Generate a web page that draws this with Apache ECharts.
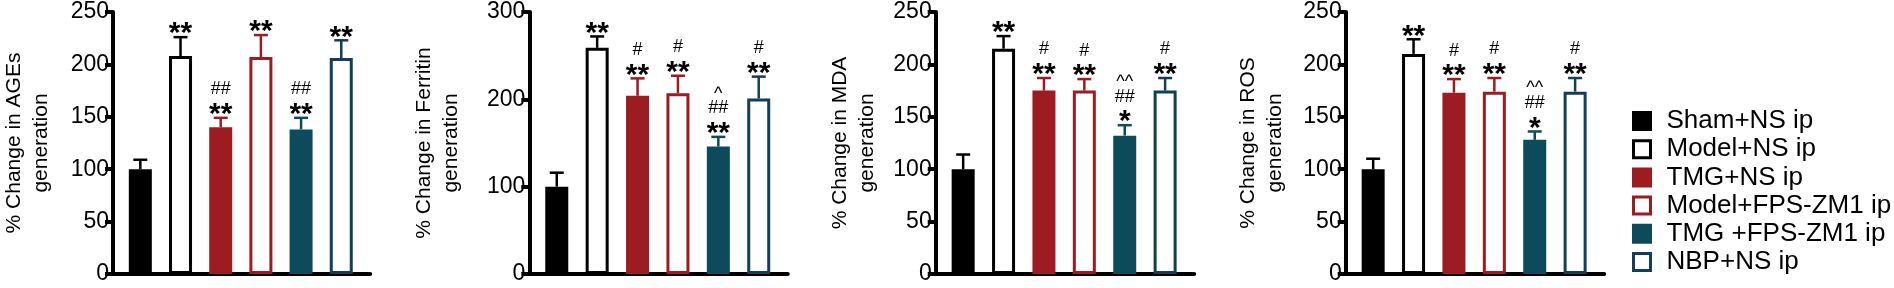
<!DOCTYPE html>
<html>
<head>
<meta charset="utf-8">
<script src="https://cdn.jsdelivr.net/npm/echarts@6/dist/echarts.min.js"></script>
<style>
html, body { margin: 0; padding: 0; background: #fff; }
#main { width: 1894px; height: 288px; }
</style>
</head>
<body>
<div id="main"></div>
<script>
// groups (legend order)
var groups = ['Sham+NS ip', 'Model+NS ip', 'TMG+NS ip', 'Model+FPS-ZM1 ip', 'TMG +FPS-ZM1 ip', 'NBP+NS ip'];

// AGEs
var agesMean = [100, 208, 140, 207, 138, 206];
var agesErr = [9, 18, 9, 21, 11, 17];
var agesMarks = ['', '**', '##\n**', '**', '##\n**', '**'];
// Ferritin
var ferritinMean = [100, 259, 204, 207, 146, 201];
var ferritinErr = [16, 13, 20, 20, 11, 25];
var ferritinMarks = ['', '**', '#\n**', '#\n**', '^\n##\n**', '#\n**'];
// MDA
var mdaMean = [100, 215, 175, 175, 132, 175];
var mdaErr = [14, 12, 12, 11, 10, 12];
var mdaMarks = ['', '**', '#\n**', '#\n**', '^^\n##\n*', '#\n**'];
// ROS
var rosMean = [100, 210, 173, 174, 128, 174];
var rosErr = [10, 14, 13, 13, 8, 13];
var rosMarks = ['', '**', '#\n**', '#\n**', '^^\n##\n*', '#\n**'];

var yTitles = ['% Change in AGEs\ngeneration', '% Change in Ferritin\ngeneration', '% Change in MDA\ngeneration', '% Change in ROS\ngeneration'];
var yMax = [250, 300, 250, 250];
var yStep = [50, 100, 50, 50];

var panels = [
	{mean: agesMean, err: agesErr, marks: agesMarks},
	{mean: ferritinMean, err: ferritinErr, marks: ferritinMarks},
	{mean: mdaMean, err: mdaErr, marks: mdaMarks},
	{mean: rosMean, err: rosErr, marks: rosMarks}
];

// layout / style
var RED = '#9c1c22', TEAL = '#0d4a5c', TEAL2 = '#123f55';
var fills = ['#000', '#fff', RED, '#fff', TEAL, '#fff'];
var edges = ['#000', '#000', RED, RED, TEAL, TEAL2];
var gridLeft = [111.7, 529.3, 935.7, 1345.7];
var nameGaps = [58, 65, 55, 57];
var FONT = '"Liberation Sans", Arial, Helvetica, sans-serif';

function markFont(line) {
	if (line.indexOf('*') >= 0) return {size: 30, weight: 'bold', dy: 8};
	if (line.indexOf('^') >= 0) return {size: 18, weight: 'normal', dy: 3};
	return {size: 18, weight: 'normal', dy: 0};
}

function buildEchart() {
	var myChart = echarts.init(document.getElementById('main'));
	var grids = [], xAxes = [], yAxes = [], series = [], legends = [];

	panels.forEach(function (p, k) {
		grids.push({left: gridLeft[k], top: 12, width: 258.5, height: 262});
		xAxes.push({
			type: 'value', gridIndex: k, min: -0.68, max: 5.72,
			axisLine: {show: true, onZero: false, lineStyle: {color: '#000', width: 4}},
			axisTick: {show: false}, axisLabel: {show: false}, splitLine: {show: false}
		});
		yAxes.push({
			type: 'value', gridIndex: k, min: 0, max: yMax[k], interval: yStep[k],
			name: yTitles[k], nameLocation: 'middle', nameGap: nameGaps[k],
			nameTextStyle: {fontFamily: FONT, fontSize: 21, color: '#000', lineHeight: 27},
			axisLine: {show: true, onZero: false, lineStyle: {color: '#000', width: 4}},
			axisTick: {show: true, length: 8, lineStyle: {color: '#000', width: 4}},
			axisLabel: {fontFamily: FONT, fontSize: 23, color: '#000', margin: 4},
			splitLine: {show: false}
		});

		// one bar series per group
		groups.forEach(function (g, i) {
			series.push({
				type: 'bar', name: g, xAxisIndex: k, yAxisIndex: k,
				barWidth: 23, barGap: '-100%',
				data: [[i, p.mean[i]]],
				itemStyle: {color: fills[i], borderColor: edges[i], borderWidth: 3},
				emphasis: {disabled: true},
				z: 2
			});
		});

		// error bars + significance marks
		series.push({
			type: 'custom', xAxisIndex: k, yAxisIndex: k, clip: false, z: 3,
			data: p.mean.map(function (m, i) { return [i, m, p.err[i]]; }),
			renderItem: function (params, api) {
				var i = params.dataIndex;
				var x = api.value(0), m = api.value(1), e = api.value(2);
				var base = api.coord([x, m]);
				var cap = api.coord([x, m + e]);
				var col = edges[i];
				var kids = [
					{type: 'line', shape: {x1: base[0], y1: base[1], x2: cap[0], y2: cap[1]}, style: {stroke: col, lineWidth: 2.5}},
					{type: 'line', shape: {x1: cap[0] - 7, y1: cap[1], x2: cap[0] + 7, y2: cap[1]}, style: {stroke: col, lineWidth: 2.5}}
				];
				var lines = p.marks[i] ? p.marks[i].split('\n').reverse() : [];
				lines.forEach(function (ln, j) {
					var f = markFont(ln);
					kids.push({
						type: 'text',
						x: cap[0], y: cap[1] - 11 - 17.5 * j + f.dy,
						style: {text: ln, fontFamily: FONT, fontSize: f.size, fontWeight: f.weight,
							fill: '#000', align: 'center', verticalAlign: 'middle'}
					});
				});
				return {type: 'group', children: kids};
			}
		});
	});

	// one legend row per group, stacked
	groups.forEach(function (g, i) {
		legends.push({
			data: [g], orient: 'vertical', left: 1632, top: 108 + 28.2 * i, padding: 0,
			icon: 'rect', itemWidth: 17, itemHeight: 17,
			itemStyle: {borderWidth: 3},
			selectedMode: false,
			textStyle: {fontFamily: FONT, fontSize: 26, color: '#000', lineHeight: 20, padding: [0, 0, 0, 11]}
		});
	});

	var option = {
		animation: false,
		backgroundColor: '#fff',
		grid: grids,
		xAxis: xAxes,
		yAxis: yAxes,
		legend: legends,
		series: series
	};
	myChart.setOption(option);
}

buildEchart();
</script>
</body>
</html>
